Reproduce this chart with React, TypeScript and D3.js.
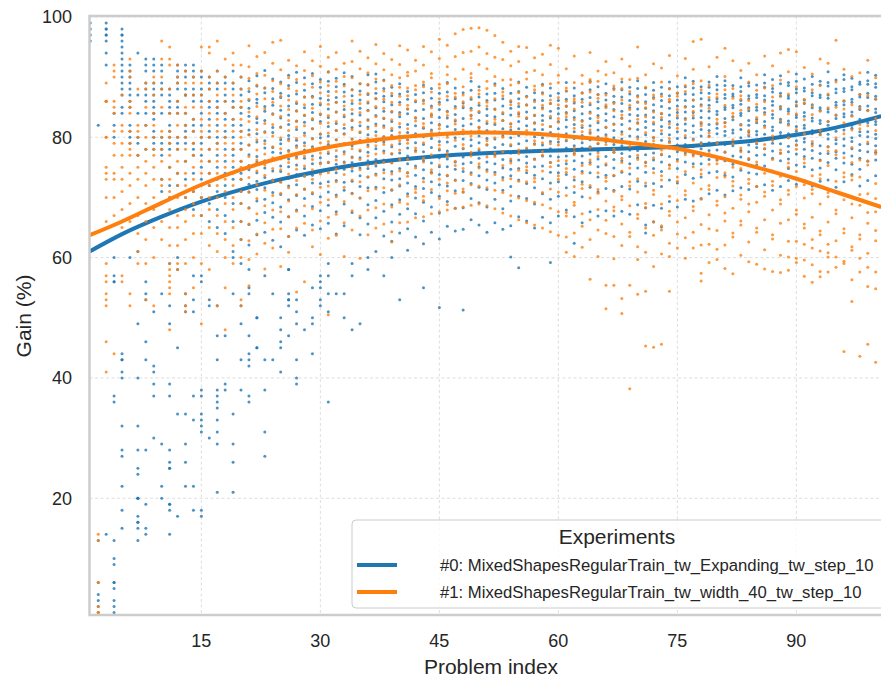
import * as d3 from 'd3';
import { useRef, useEffect } from 'react';

// gain values per problem index (entry i = problem index i + 1)
const expandingRuns: string[] = [
  '99 98 97 96',
  '82 13 6 4 3 2 1',
  '99 98 98 97 97 96 94 92 86 14',
  '84 82 80 60 57 56 56 37 36 13 10 9 6 6 5 3 2 1',
  '98 97 97 96 95 94 93 92 91 90 89 88 87 85 84 44 43 43 41 40 32 28 27 22 18 15',
  '92 91 90 89 88 87 86 85 82 81 80 79 60',
  '94 87 84 80 79 77 61 49 40 32 28 25 24 20 20 20 17 16 16 15 13',
  '93 92 91 89 88 87 86 84 82 78 56 54 53 46 43 28 19 15 14',
  '93 92 91 89 88 87 86 85 84 83 81 80 79 78 51 42 41 39 37 30',
  '92 91 89 88 87 84 80 79 78 77 73 71 54 29 22 20',
  '88 87 86 85 84 82 81 80 79 78 75 72 70 59 52 49 39 37 28 26 25 25 19 19 18 14',
  '92 91 90 89 88 86 85 84 80 79 78 74 72 60 58 45 34 17',
  '92 91 90 88 87 87 84 82 81 80 79 76 73 70 54 52 51 34 29 26 22',
  '92 91 90 88 87 86 83 82 81 79 78 77 74 71 68 57 53 51 37 33 22 18',
  '91 90 88 87 86 84 82 80 79 77 75 73 70 67 57 56 38 37 34 33 32 31 18 17',
  '90 89 88 86 85 83 81 80 78 76 74 72 69 66 53 52 30',
  '91 89 88 86 85 84 82 80 79 77 75 73 71 68 65 52 47 43 38 37 36 35 33 31 29 21',
  '90 89 87 86 84 83 81 80 78 76 74 72 70 67 64 47 39 38',
  '91 89 88 86 85 83 82 80 78 77 75 73 71 69 66 61 60 54 34 29 26 21',
  '90 88 87 85 84 82 81 79 78 76 74 73 71 69 66 63 59 52 49 43 38',
  '89.4 87.6 86.1 84.8 83.5 81.2 80.4 78.7 77.1 75.3 74.6 72.2 70.9 68.3 65.5 62.1 58 55 54 47 44 43 42 37 36',
  '90.2 88.5 86.3 85.7 83.1 82.4 80.6 79.2 76.8 75.9 74.1 72.7 71.3 69.4 66.2 63.8 50 50 45 45',
  '91.1 88.2 87.4 85.1 84.3 82.8 80.9 79.4 78.2 76.1 74.9 73.3 71.6 69.7 67.5 64.2 57 43 38 31 27',
  '89.7 88.1 86.4 85.3 83.9 81.6 80.8 78.3 77.5 76.2 74.4 72.9 70.8 69.1 66.7 62.9 54 43',
  '89.2 87.3 86.6 84.5 83.2 81.7 79.6 78.9 77.4 75.2 74.3 72.6 70.5 68.4 65.9 61.8 50 48 46 45 41',
  '90.3 88.6 86.9 85.2 83.7 82.1 80.3 79.7 77.8 76.4 75.1 73.2 71.9 69.6 66.8 63.5 58 58 54 53 53 52 47',
  '90.8 89.1 87.2 85.6 84.4 82.7 81.3 79.5 78.6 76.7 75.4 73.8 72.1 70.3 67.9 64.6 53 51 49 43 40 39',
  '89.9 87.8 86.7 84.9 83.6 82.5 80.7 79.1 77.9 76.5 74.8 73.5 71.4 69.8 66.9 63.7 48',
  '90.6 88.9 86.8 85.5 84.1 82.9 81.4 79.8 78.4 76.9 75.6 73.7 72.4 70.6 68.5 65.4 55 50 49 44',
  '89.6 88.3 86.5 85.4 83.8 82.6 80.5 79.9 78.1 76.6 75.7 74.2 72.3 70.1 67.8 64.8 57 56 55 53 52',
  '90.9 89.3 87.6 86.2 84.7 83.3 81.8 80.2 78.8 77.3 75.8 74.5 72.6 70.9 68.7 65.7 59 57 54 51 36',
  '89.8 88.4 86.6 85.8 84.2 82.3 81.1 79.6 78.5 76.8 75.5 74.1 72.8 70.4 67.6 63.9 54',
  '90.7 88.8 87.5 85.9 84.6 83.4 81.5 80.6 78.9 77.6 75.9 74.7 72.5 71.2 68.9 65.3 54 50',
  '90.1 87.9 86.9 85.6 83.9 82.8 81.6 79.7 78.6 76.7 75.8 74.4 72.7 70.7 67.5 59 57 48',
  '88.9 87.7 86.2 84.8 83.7 81.9 80.8 79.5 77.7 76.6 74.9 73.6 71.8 69.9 66.6 63.8 49',
  '90.4 88.7 87.1 85.7 84.5 82.9 81.7 80.4 78.7 77.5 76.1 74.8 73.4 71.6 68.8 65.6 60 58',
  '90.5 89.2 87.3 86.4 84.9 83.6 82.2 80.9 79.3 78.1 76.3 75.2 73.9 71.7 69.5 66.6 61',
  '89.5 88.1 86.8 85.9 84.3 83.1 81.9 80.1 79.2 77.7 76.2 74.6 73.1 70.8 67.7 63.6 57',
  '88.3 86.9 85.4 84.2 82.6 81.1 80.3 78.4 77.2 75.8 74.3 72.9 71.2 68.8 65.9 62.7 60',
  '88.9 87.2 85.8 84.1 83.4 81.7 80.2 78.9 77.4 76.3 74.8 73.1 71.9 69.6 67.2 64.1 53',
  '87.6 86.3 84.7 83.9 82.1 80.8 79.6 78.2 76.9 75.6 74.1 72.4 70.6 68.1 64.8 61.2',
  '87.1 85.9 84.4 83.2 81.9 80.6 79.1 77.8 76.5 75.2 73.7 71.8 69.9 67.3 63.4',
  '88.7 87.4 86.1 84.6 83.1 81.5 80.1 78.8 77.6 76.1 74.6 73.2 71.5 69.2 66.1 62.3 55',
  '88.1 86.5 85.2 83.7 82.4 81.2 79.8 78.3 76.8 75.7 74.2 72.6 70.8 68.4 64.2',
  '87.3 85.8 84.6 83.3 82.1 80.7 79.3 77.9 76.6 75.1 73.8 72.1 70.2 67.4 63.1 51.7',
  '89.1 87.5 86.2 84.3 83.2 81.8 80.4 79.2 77.7 76.4 75.1 73.6 71.9 69.3 65.2',
  '88.2 86.4 85.1 83.8 82.7 81.3 79.9 78.5 77.1 75.9 74.7 72.9 71.1 68.2 64.4',
  '87.4 85.7 84.9 83.1 81.9 80.6 79.7 78.1 76.7 75.6 74.3 72.8 70.9 68.3 64.7 51.3',
  '89.3 87.8 86.3 84.8 83.6 82.2 80.9 79.6 78.6 77.2 75.8 74.1 72.3 69.8 66.3',
  '88.4 86.7 85.3 84.1 82.8 81.6 80.2 79.1 77.8 76.5 75.1 73.6 71.7 69.1 65.4',
  '87.2 86.1 84.7 83.6 82.3 81.1 79.8 78.7 77.2 75.9 74.6 72.9 71.3 68.4 64.2',
  '88.9 87.3 86.2 84.7 83.4 82.1 80.9 79.7 78.3 77.1 75.6 74.2 72.4 69.7 65.8',
  '88.1 86.4 85.2 83.9 82.8 81.4 80.2 78.8 77.6 76.3 74.9 73.3 71.2 68.1 64.7',
  '87.3 85.9 84.8 83.7 82.2 81.2 79.9 78.6 77.4 76.1 74.7 73.6 71.8 69.4 65.3 60.1',
  '89.2 87.6 86.4 85.1 83.9 82.6 81.4 80.3 78.9 77.6 76.2 74.8 72.9 70.2 66.8 58.3',
  '88.3 86.8 85.4 84.2 83.1 81.9 80.7 79.4 78.1 76.8 75.7 74.1 72.3 69.8 66.1',
  '87.4 86.2 84.9 83.6 82.4 81.3 80.1 78.9 77.7 76.4 75.1 73.7 71.6 68.9 64.9',
  '88.8 87.4 86.1 84.9 83.6 82.8 81.3 79.9 78.7 77.6 76.9 75.2 73.1 70.6 66.7',
  '88.2 86.9 85.6 84.3 83.2 81.8 80.8 79.3 78.1 76.9 75.8 74.2 72.4 69.7 65.8 59.2',
  '87.3 86.1 84.8 83.9 82.6 81.4 80.4 79.2 77.9 76.7 75.3 74.1 72.6 70.2 66.9',
  '89.1 87.7 86.3 85.2 84.1 82.9 81.7 80.6 79.4 78.2 76.9 75.6 73.8 71.6 67.9',
  '88.2 86.9 85.7 84.4 83.3 82.1 80.9 79.8 78.6 77.3 76.1 74.7 72.9 70.8 66.8 62.4',
  '87.4 86.3 85.1 83.9 82.8 81.6 80.3 79.1 78.2 76.9 75.7 74.3 72.6 70.1 65.8',
  '89.3 87.9 86.6 85.4 84.2 83.1 81.9 80.8 79.6 78.4 77.2 75.8 74.1 71.7 67.6',
  '88.4 87.1 85.9 84.8 83.6 82.4 81.2 80.1 78.9 77.7 76.4 75.1 73.4 70.9 66.9',
  '88.9 87.3 86.2 85.1 83.9 82.8 81.6 80.4 79.3 78.1 76.8 75.4 73.7 71.5 67.8',
  '88.1 86.8 85.8 84.6 83.4 82.2 81.1 79.9 78.8 77.5 76.3 74.9 73.6 71.2 66.9',
  '89.2 87.9 86.7 85.6 84.3 83.2 82.1 80.9 79.7 78.6 77.3 76.1 74.2 71.8 67.7',
  '88.3 87.2 86.1 84.9 83.8 82.7 81.4 80.2 79.1 77.9 76.8 75.6 73.9 71.4 67.2',
  '89.4 88.1 86.9 85.8 84.7 83.6 82.4 81.3 80.1 78.9 77.8 76.6 74.9 72.7 68.8',
  '88.2 87.1 85.9 84.8 83.7 82.6 81.6 80.4 79.3 78.2 77.1 75.8 74.2 71.9 68.3 65.4 64.1',
  '89.1 87.8 86.6 85.4 84.4 83.3 82.2 81.1 79.9 78.8 77.4 76.2 74.8 72.3 68.7 65.9',
  '88.3 87.2 86.1 85.1 83.9 82.9 81.8 80.6 79.5 78.4 77.1 75.9 74.3 71.8 68.2 65.1',
  '89.2 88.1 86.9 85.9 84.8 83.7 82.6 81.6 80.4 79.3 78.2 76.8 75.4 72.9 69.3',
  '88.4 87.3 86.2 85.2 84.1 83.2 82.1 80.9 79.8 78.7 77.6 76.3 74.8 72.4 68.4',
  '89.9 88.4 87.2 86.1 85.1 84.2 83.1 82.2 81.1 79.9 78.8 77.4 75.9 73.8 69.7',
  '89.3 88.2 87.1 86.2 85.1 84.1 83.2 81.9 80.8 79.7 78.4 77.1 75.6 73.2 69.4',
  '88.4 87.4 86.4 85.4 84.4 83.3 82.3 81.3 80.2 79.1 78.1 76.9 75.6 73.4 69.8',
  '89.2 88.3 87.3 86.2 85.3 84.3 83.2 82.1 81.1 80.2 79.1 77.8 76.3 74.1 70.6',
  '90.1 88.7 87.9 86.4 85.9 84.3 83.8 82.2 81.5 80.6 79.1 77.9 76.2 74.3 71.2',
  '89.4 88.6 87.1 86.5 85.0 84.6 83.1 82.4 81.0 80.3 78.8 77.5 76.1 73.7 70.4',
  '88.6 87.2 86.8 85.3 84.9 83.4 82.9 81.2 80.7 79.0 78.6 76.9 75.5 73.4 71.1',
  '89.9 88.4 87.6 86.1 85.5 84.0 83.6 82.1 81.3 79.9 79.2 77.8 76.7 74.5 71.6',
  '89.0 88.5 86.9 86.4 84.9 84.4 82.8 82.0 80.9 80.2 78.7 77.6 76.3 74.1 71.3',
  '88.7 87.1 86.6 85.0 84.5 83.0 82.4 81.0 80.4 78.9 78.3 77.0 75.4 73.9 71.8',
  '90.4 89.0 88.3 86.9 86.2 84.8 84.1 82.6 81.9 80.5 79.8 78.1 77.1 75.2 72.1',
  '89.6 88.1 87.5 86.0 85.3 83.8 83.2 81.7 81.1 79.6 79.0 77.7 76.5 74.4 71.2',
  '90.2 88.9 87.3 86.8 85.1 84.7 83.0 82.5 80.8 80.3 78.9 77.4 76.1 73.9 71.8',
  '89.1 88.6 86.9 86.5 84.7 84.3 82.7 82.2 80.6 79.9 78.5 77.6 76.4 74.8 72.8',
  '90.5 89.3 88.0 87.4 85.9 85.2 83.7 83.3 81.8 81.0 79.4 78.7 77.2 75.4 72.2',
  '89.7 88.2 87.7 86.2 85.6 84.1 83.5 82.0 81.5 79.8 79.2 78.0 76.8 75.1 72.8',
  '90.1 88.8 87.4 86.9 85.4 84.9 83.2 82.7 81.1 80.6 78.9 77.8 76.5 74.6 71.9',
  '89.3 88.7 87.0 86.6 84.9 84.5 82.8 82.3 80.8 80.4 78.6 77.3 76.2 74.9 72.7',
  '90.9 89.1 88.5 87.0 86.5 84.7 84.2 82.6 82.0 80.5 79.7 78.4 77.3 75.8 72.9',
  '89.5 88.0 87.4 85.8 85.3 83.7 83.1 81.6 81.0 79.6 78.9 77.6 76.5 74.6 71.7',
  '90.4 89.6 88.1 87.6 86.0 85.4 83.9 83.4 81.8 81.2 79.7 78.6 77.4 75.7 72.6',
  '89.8 88.4 87.9 86.3 85.8 84.2 83.6 82.0 81.5 79.9 79.3 78.1 76.9 75.5 73.8',
  '89.2 88.8 87.1 86.7 85.1 84.6 83.0 82.5 80.9 80.3 78.8 77.8 76.5 74.7 71.9',
  '90.8 89.4 88.8 87.3 86.6 85.2 84.5 83.0 82.4 80.9 80.1 78.9 77.6 76.0 72.8',
  '90.3 88.9 88.3 86.8 86.3 84.7 84.1 82.6 82.1 80.5 79.8 78.6 77.5 76.2 73.6',
];

const widthRuns: string[] = [
  '',
  '14 13 6 2 1 1',
  '89 86 86 80 80 75 74 73 70 66 59 57 56 54 53 52 46 41',
  '92 91 90 86 85 84 81 79 77 74 73 70 67 44',
  '87 82 81 79 77 75 73 71 68 65 57 56',
  '93 91 90 86 85 84 81 79 78 77 74 72 69 66 54 52',
  '88 82 81 80 77 75 73 70 67 64 61 59',
  '89 88 85 82 80 78 76 74 72 69 66 63 59 53',
  '90 89 87 84 82 80 78 77 75 73 70 68 65 60 52',
  '96 93 90 88 85 81 80 78 76 73 72 69 66 63',
  '95 93 92 88 84 81 80 79 77 75 73 71 70 68 65 62 59 58 57 56 55 54 48',
  '92 90 89 86 84 82 80 78 76 74 72 70 67 65 62 59 58',
  '91 89 87 85 84 82 80 78 76 74 72 70 68 66 63 59 54 52 51',
  '90 89 87 85 83 81 79 77 75 73 71 69 67 64 60 55',
  '95 91 89 87 85 83 81 80 78 76 74 72 70 67 64 59 49',
  '95 94 90 88 86 84 82 80 78 76 74 72 70 68 65 62 58',
  '96 91 89 87 85 83 81 79 78 76 74 72 70 67 64 61 52',
  '93 90 88 86 84 82 80 79 77 75 73 71 69 66 63 60 55 48',
  '94 92 89 87 85 83 81 79 78 76 74 72 70 68 65 62 59',
  '92 90 88 86 85 83 81 80 78 76 75 73 71 69 66 63 60 53 52',
  '95.2 91.7 89.8 88.1 86.3 84.2 82.6 80.4 78.7 76.8 75.1 73.3 70.9 68.2 65.6 62.8 59.7 55.3',
  '93.4 90.6 88.7 87.2 85.1 83.4 81.3 79.6 77.9 76.2 74.4 72.1 69.8 67.3 63.9 60.6',
  '94.1 90.3 88.2 86.4 84.7 82.3 80.8 78.9 77.2 75.4 73.7 71.2 68.6 65.8 62.4 58.1',
  '95.8 92.3 89.4 87.6 85.8 83.8 82.1 80.2 78.4 76.6 74.8 72.8 70.3 67.9 64.7 61.6',
  '96.1 91.2 88.9 86.8 85.2 83.5 81.6 79.9 78.1 76.4 74.6 72.5 70.7 67.6 64.8 58.5',
  '92.8 89.9 88.1 86.2 84.6 82.8 81.1 79.4 77.6 75.8 73.9 71.6 69.4 66.8 63.5 60.9',
  '91.9 89.6 87.7 85.9 84.3 82.6 81.7 79.8 78.3 76.5 74.7 72.8 70.5 67.7 64.9 54.3',
  '94.2 91.1 88.8 86.7 85.4 83.7 81.9 80.3 78.6 76.9 75.2 73.6 71.3 68.6 65.7 56.0',
  '92.7 90.2 88.3 86.6 84.8 83.1 81.4 79.7 78.2 76.3 74.6 73.0 70.8 68.1 64.6 61.8',
  '95.1 91.8 89.2 87.4 85.7 83.9 82.3 80.6 79.1 77.4 75.6 73.9 71.7 69.2 66.1 60.5',
  '93.3 90.8 88.6 86.9 85.5 83.6 82.4 80.7 79.3 77.6 75.9 74.1 71.9 69.6 66.7 63.2 50.5',
  '94.1 91.3 89.3 87.6 85.8 84.2 82.6 81.1 79.6 77.8 76.2 74.7 72.6 70.1 67.2 63.7',
  '92.3 90.1 88.5 86.8 85.2 83.7 82.1 80.5 78.9 77.2 75.7 73.8 71.7 69.3 65.8 60.2',
  '96.0 92.6 89.9 87.9 86.1 84.6 82.9 81.3 79.7 78.1 76.6 74.9 72.9 70.6 67.8 64.6',
  '94.3 91.4 88.9 87.1 85.6 84.1 82.5 80.9 79.4 77.9 76.3 74.6 72.6 69.9 66.9 59.9',
  '93.2 90.7 88.8 87.3 85.9 84.4 82.8 81.4 79.8 78.4 76.9 75.3 73.4 71.1 67.9 63.8',
  '95.4 92.2 89.7 88.1 86.5 85.1 83.4 81.9 80.3 78.6 77.2 75.6 73.7 71.4 68.3 64.9',
  '93.9 91.2 89.4 87.7 86.3 84.8 83.2 81.6 80.1 78.8 77.4 75.8 74.1 71.6 68.9 65.6',
  '92.9 90.4 88.6 87.3 85.8 84.3 82.9 81.5 80.2 78.7 77.3 75.7 73.9 71.3 68.4 64.3 62.6',
  '95.2 92.1 89.9 88.3 86.8 85.4 83.8 82.3 80.8 79.4 77.9 76.3 74.4 72.1 69.2 65.8',
  '94.5 90.8 90.2 86.9 85.3 84.7 81.4 79.6 79.0 76.3 74.1 73.5 70.2 68.9 65.9 88.2',
  '92.8 91.0 88.6 87.9 83.3 82.7 80.1 78.2 77.6 74.9 71.4 70.8 66.6 86.1',
  '95.1 92.0 89.2 86.2 85.6 82.3 81.7 79.1 76.5 75.9 72.6 70.2 69.5 66.8 88.4',
  '94.2 90.6 89.9 87.5 84.9 83.4 80.9 80.3 77.1 74.6 74.0 71.3 67.3 83.9',
  '96.3 93.1 88.8 88.2 85.5 82.0 81.4 78.7 78.1 75.4 73.0 69.8 67.6 86.4',
  '95.3 91.7 90.4 86.8 84.2 83.6 80.0 77.4 76.8 73.7 72.4 68.8 71.1 67.9 88.9',
  '97.2 93.4 89.7 87.3 86.7 82.9 82.2 79.5 76.0 75.3 72.8 70.7 68.2 84.8',
  '97.9 94.1 91.3 88.4 85.9 85.2 81.2 78.8 78.2 74.8 71.4 70.9 68.4 87.0',
  '98.1 94.3 90.6 89.9 86.6 83.7 83.1 80.2 77.5 76.9 73.8 72.1 68.7 84.5',
  '98.2 95.0 92.1 87.8 87.2 84.3 81.7 81.1 78.1 75.6 74.9 71.9 68.9 85.7',
  '97.8 93.9 91.4 89.3 85.8 85.2 82.6 79.4 78.8 76.7 74.3 71.6 68.6 88.1',
  '96.9 93.3 90.1 88.6 86.4 83.0 82.4 79.9 77.4 76.8 73.8 71.2 68.1 84.6',
  '95.8 92.9 89.5 87.5 86.9 84.1 80.6 80.0 77.6 75.3 72.9 70.8 67.4 82.8',
  '94.3 91.9 88.7 86.1 85.4 82.3 81.7 78.8 76.4 75.7 73.1 70.3 66.9 89.6',
  '95.1 92.6 89.0 87.4 84.1 83.5 80.8 77.9 77.3 74.5 72.7 69.9 66.3 85.6',
  '94.9 90.8 89.7 86.7 85.3 81.1 80.5 78.2 75.1 74.5 72.6 69.5 65.8 83.3',
  '93.2 91.1 88.5 87.9 83.7 82.3 79.4 78.8 76.3 73.2 72.6 69.2 65.4 85.9',
  '93.8 90.4 88.6 85.3 84.7 82.1 79.1 77.6 77.0 74.4 70.8 68.8 64.9 87.2',
  '95.3 92.1 88.9 86.2 85.6 81.8 80.4 78.9 75.8 75.1 71.4 68.2 64.3 83.5',
  '94.8 90.3 89.1 86.6 83.1 82.5 79.7 78.7 76.1 73.6 73.0 70.9 67.6 63.7 85.4',
  '91.4 88.2 87.7 85.1 83.9 83.4 80.2 79.6 76.1 74.8 74.2 70.3 67.5 66.9 63.4 60.9 86.0',
  '93.5 89.1 86.4 86.0 84.7 81.5 78.2 77.6 77.1 73.4 71.8 69.2 68.7 64.1 60.2 82.9',
  '90.3 88.9 87.3 82.6 82.0 80.9 79.7 75.3 74.0 72.2 71.5 67.3 65.2 61.7 85.8',
  '94.1 89.6 89.1 85.7 84.0 81.2 80.6 78.3 76.2 75.5 72.0 69.9 66.3 63.0 56.4 87.5',
  '91.0 87.1 86.5 83.3 82.7 79.0 77.4 76.8 74.1 71.3 70.7 68.0 64.6 60.2 89.3',
  '92.6 90.4 85.4 84.9 81.7 80.1 78.8 75.6 73.3 72.7 69.4 66.2 64.0 55.4 51.5 87.0',
  '90.7 88.5 87.9 84.4 82.1 79.4 78.0 77.5 73.7 71.0 68.4 67.8 63.5 59.8 55.4 85.6',
  '93.0 89.7 86.2 83.7 83.1 80.5 76.5 75.8 74.4 70.2 69.6 65.6 62.0 53.2 50.7 88.1',
  '91.8 87.6 85.3 84.6 81.4 79.2 78.5 74.9 72.6 71.9 68.6 64.2 63.5 55.4 38.2 89.6',
  '95.0 89.8 86.7 83.0 82.3 79.7 77.0 76.3 73.1 70.9 67.2 66.5 61.8 59.7 53.9 85.9',
  '90.4 88.3 85.6 84.9 80.8 78.7 75.9 75.2 72.4 69.0 68.3 64.9 60.9 54.4 45.3 83.4',
  '92.2 87.0 86.4 82.5 80.0 79.4 76.6 74.1 71.2 70.5 66.0 63.7 58.5 45.1 84.2',
  '91.5 89.2 84.0 83.3 81.1 77.9 77.2 73.6 72.9 68.9 65.3 64.6 60.6 45.6 86.8',
  '93.6 88.0 85.9 82.2 79.8 79.1 75.4 74.8 70.2 67.7 67.0 62.4 60.2 54.4 86.3',
  '90.2 87.4 86.8 83.6 81.5 78.3 76.0 73.4 72.7 69.5 65.9 63.9 61.6 84.6',
  '93.1 88.6 85.0 82.9 80.3 77.7 77.1 74.3 71.1 70.4 66.6 63.3 59.9 87.6',
  '95.9 91.3 86.2 84.3 83.6 79.5 76.9 75.1 72.4 68.5 67.8 64.2 61.6 88.9',
  '96.3 89.4 87.9 82.5 81.9 78.9 74.6 73.9 71.4 69.7 65.5 62.1 57.4 56.1 85.2',
  '91.7 88.7 84.8 80.7 80.1 77.3 75.5 72.0 71.3 67.1 64.8 62.2 59.2 86.6',
  '93.3 87.2 86.6 83.0 79.0 76.2 75.6 73.3 69.4 68.7 64.5 61.4 59.7 82.4',
  '94.8 90.1 85.3 82.5 81.8 77.6 74.1 73.4 70.1 67.4 66.1 62.1 58.2 87.9',
  '92.7 88.1 84.0 83.4 79.6 78.9 75.0 72.7 71.9 68.2 64.1 63.4 57.3 86.5',
  '91.1 86.9 86.3 82.0 78.2 77.6 74.8 70.4 69.7 66.1 65.4 60.4 84.5',
  '92.3 89.2 84.7 81.1 80.5 76.5 73.0 72.3 68.9 67.6 62.6 59.3 86.1',
  '90.4 87.8 83.3 82.7 79.1 75.9 75.2 71.8 69.2 64.9 64.2 58.9 85.5',
  '93.5 88.2 85.9 81.6 78.8 78.1 74.0 70.9 70.2 66.3 61.3 58.1 83.8',
  '91.9 86.7 84.4 80.2 79.5 76.3 72.7 72.0 67.9 63.8 63.1 57.7 88.6',
  '94.0 89.5 85.0 82.8 77.9 77.3 73.5 69.6 68.9 65.7 60.4 57.5 86.9',
  '94.6 90.9 87.2 83.9 79.9 75.7 75.0 71.2 70.5 66.3 62.7 60.1 57.9 82.0',
  '94.2 88.4 85.4 81.3 78.7 78.0 74.3 71.8 67.9 67.2 62.7 59.9 59.2 83.9',
  '91.6 86.3 85.7 80.6 76.4 75.7 72.1 69.9 65.6 64.9 62.2 59.6 56.9 82.9',
  '90.5 87.9 83.8 79.3 78.6 73.6 71.3 70.6 66.7 63.0 61.6 58.8 55.9 85.2',
  '93.0 88.6 81.1 80.4 76.1 73.8 73.1 68.9 64.4 63.8 61.1 57.7 56.8 84.3',
  '92.3 87.2 84.9 78.4 77.7 75.3 70.8 70.1 65.9 62.2 60.8 60.1 57.6 82.6',
  '96.1 89.2 85.0 79.9 77.8 77.1 72.7 67.9 67.3 62.8 60.1 58.4 83.6',
  '91.3 86.1 82.4 80.6 76.6 74.1 73.4 69.6 64.8 64.1 59.4 59.0 44.4 84.7',
  '90.1 85.4 81.2 78.3 75.8 73.6 72.9 68.9 66.6 61.8 61.2 56.3 52.7 83.5',
  '90.7 87.1 82.1 81.4 76.2 73.4 70.5 68.7 63.8 63.1 59.9 57.6 43.6 84.8',
  '92.8 86.9 84.4 79.2 76.1 75.4 70.6 67.5 65.7 60.7 58.4 55.2 45.6 81.9',
  '89.9 86.4 81.1 77.8 77.2 72.3 69.8 67.6 64.5 62.8 57.6 54.8 42.6 83.1',
];

// cubic trend
const fitIndex = [0.9, 5, 10, 15, 20, 25, 30, 35, 40, 45, 50, 55, 60, 65, 70, 75, 80, 85, 90, 95, 100.7];
const expandingFit = [61.0, 63.9, 66.8, 69.3, 71.3, 73.0, 74.4, 75.5, 76.3, 76.9, 77.3, 77.6, 77.8, 78.0, 78.2, 78.4, 78.9, 79.5, 80.4, 81.6, 83.5];
const widthFit = [63.7, 66.0, 69.1, 72.1, 74.6, 76.6, 78.1, 79.2, 80.0, 80.5, 80.8, 80.7, 80.3, 79.7, 78.9, 78.1, 76.7, 75.0, 73.1, 70.9, 68.4];

const xTicks = [15, 30, 45, 60, 75, 90];
const yTicks = [20, 40, 60, 80, 100];
const seriesNames = [
  '#0: MixedShapesRegularTrain_tw_Expanding_tw_step_10',
  '#1: MixedShapesRegularTrain_tw_width_40_tw_step_10',
];
const seriesColors = ['#1f77b4', '#ff7f0e'];

const toPoints = (runs: string[]) =>
  runs.flatMap((s, i) => (s ? s.split(' ').map(v => ({ idx: i + 1, gain: +v })) : []));

const App = () => {
  const svgRef = useRef<SVGSVGElement | null>(null);

  useEffect(() => {
    const width = 881;
    const height = 680;
    const left = 89.5, right = 881, top = 16, bottom = 615;
    const font = '"Liberation Sans", Arial, sans-serif';
    const ink = '#262626';

    d3.select(svgRef.current).selectAll('*').remove();
    const svg = d3.select(svgRef.current).attr('width', width).attr('height', height);

    const x = d3.scaleLinear().domain([0.9, 100.67]).range([left, right]);
    const y = d3.scaleLinear().domain([0, 100]).range([618.6, 16.9]);

    svg.append('defs').append('clipPath').attr('id', 'plot-clip')
      .append('rect').attr('x', left).attr('y', top).attr('width', right - left).attr('height', bottom - top);

    // grid
    const grid = svg.append('g').attr('stroke', '#d5d5d5').attr('stroke-width', 0.8).attr('stroke-dasharray', '3,2.5');
    grid.selectAll('line.gx').data(xTicks).enter().append('line')
      .attr('x1', d => x(d)).attr('x2', d => x(d)).attr('y1', top).attr('y2', bottom);
    grid.selectAll('line.gy').data(yTicks).enter().append('line')
      .attr('y1', d => y(d)).attr('y2', d => y(d)).attr('x1', left).attr('x2', right);

    const plot = svg.append('g').attr('clip-path', 'url(#plot-clip)');
    const line = d3.line<number>()
      .x((_, i) => x(fitIndex[i]))
      .y(d => y(d))
      .curve(d3.curveMonotoneX);

    const series = [
      { points: toPoints(expandingRuns), fit: expandingFit },
      { points: toPoints(widthRuns), fit: widthFit },
    ];

    series.forEach((s, k) => {
      plot.append('g').selectAll('circle')
        .data(s.points)
        .enter()
        .append('circle')
        .attr('cx', d => x(d.idx))
        .attr('cy', d => y(d.gain))
        .attr('r', 1.5)
        .attr('fill', seriesColors[k])
        .attr('fill-opacity', 0.8);

      plot.append('path')
        .datum(s.fit)
        .attr('d', line)
        .attr('fill', 'none')
        .attr('stroke', seriesColors[k])
        .attr('stroke-width', 4);
    });

    // spines
    const spine = svg.append('g').attr('stroke', '#cccccc').attr('stroke-width', 2.5);
    spine.append('line').attr('x1', left).attr('x2', left).attr('y1', top - 1.2).attr('y2', bottom + 1.2);
    spine.append('line').attr('x1', left).attr('x2', right).attr('y1', bottom).attr('y2', bottom);
    spine.append('line').attr('x1', left).attr('x2', right).attr('y1', top).attr('y2', top);

    // tick labels
    svg.append('g').selectAll('text')
      .data(xTicks)
      .enter()
      .append('text')
      .attr('x', d => x(d))
      .attr('y', 647)
      .attr('text-anchor', 'middle')
      .attr('font-family', font)
      .attr('font-size', 18)
      .attr('fill', ink)
      .text(d => d);

    svg.append('g').selectAll('text')
      .data(yTicks)
      .enter()
      .append('text')
      .attr('x', 72)
      .attr('y', d => y(d))
      .attr('dy', '0.36em')
      .attr('text-anchor', 'end')
      .attr('font-family', font)
      .attr('font-size', 18)
      .attr('fill', ink)
      .text(d => d);

    // axis titles
    svg.append('text')
      .attr('x', 491).attr('y', 674)
      .attr('text-anchor', 'middle')
      .attr('font-family', font).attr('font-size', 21).attr('fill', ink)
      .text('Problem index');

    svg.append('text')
      .attr('transform', 'translate(31,316) rotate(-90)')
      .attr('text-anchor', 'middle')
      .attr('font-family', font).attr('font-size', 21).attr('fill', ink)
      .text('Gain (%)');

    // legend
    const legend = svg.append('g');
    legend.append('rect')
      .attr('x', 352).attr('y', 520).attr('width', 540).attr('height', 88).attr('rx', 4)
      .attr('fill', 'white').attr('fill-opacity', 0.8)
      .attr('stroke', '#cccccc').attr('stroke-width', 1);
    legend.append('text')
      .attr('x', 617).attr('y', 544)
      .attr('text-anchor', 'middle')
      .attr('font-family', font).attr('font-size', 21).attr('fill', ink)
      .text('Experiments');

    seriesNames.forEach((name, i) => {
      const ly = 565 + i * 27;
      legend.append('line')
        .attr('x1', 357).attr('x2', 397).attr('y1', ly).attr('y2', ly)
        .attr('stroke', seriesColors[i]).attr('stroke-width', 4);
      legend.append('text')
        .attr('x', 440).attr('y', ly)
        .attr('dy', '0.36em')
        .attr('font-family', font).attr('font-size', 16.7).attr('fill', ink)
        .text(name);
    });
  }, []);

  return (
    <svg ref={svgRef} style={{ position: 'absolute', left: 0, top: 0 }}></svg>
  );
};

export default App;
